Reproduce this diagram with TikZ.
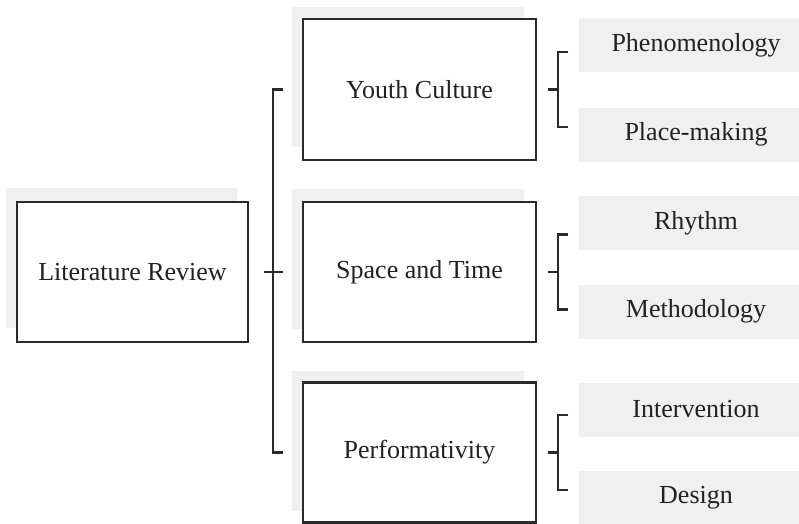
\documentclass[tikz,border=0pt]{standalone}
\usepackage{fontspec}
\setmainfont{Liberation Serif}
\usetikzlibrary{calc}
\definecolor{inkline}{HTML}{2A2A2A}
\definecolor{panel}{HTML}{F0F0EE}
\definecolor{inktext}{HTML}{222222}
\begin{document}
\begin{tikzpicture}[x=1pt,y=-1pt,
  every node/.style={font=\fontsize{26}{30}\selectfont, text=inktext},
  backpanel/.style={fill=panel, minimum width=231pt, minimum height=140pt, inner sep=0pt},
  topicbox/.style={draw=inkline, line width=2.6pt, fill=white, minimum width=231pt, minimum height=140pt, inner sep=0pt},
  leafbox/.style={fill=panel, minimum width=234pt, minimum height=54pt, inner sep=0pt},
  bracket/.style={draw=inkline, line width=2.3pt}]
\useasboundingbox (0,0) rectangle (799,523);
\clip (0,0) rectangle (799,523);

% root topic with its offset backing panel
\node[backpanel] (litbg) at (121.5,258) {};
\node[topicbox] (lit) at (132.5,272) {Literature Review};

% middle column of topics
\node[backpanel, minimum width=232pt] (ycbg) at (408,76.5) {};
\node[topicbox, minimum width=233pt, minimum height=141pt] (yc) at (419.5,89.5) {Youth Culture};
\node[backpanel, minimum width=232pt] (stbg) at (408,258.5) {};
\node[topicbox, minimum width=233pt] (st) at (419.5,272) {Space and Time};
\node[backpanel, minimum width=232pt] (pfbg) at (408,440.5) {};
\node[topicbox, minimum width=233pt] (pf) at (419.5,452.5) {Performativity};

% sub-topics
\node[leafbox] (ph) at (696,45) {Phenomenology};
\node[leafbox] (pm) at (696,134.5) {Place-making};
\node[leafbox] (rh) at (696,223) {Rhythm};
\node[leafbox] (me) at (696,311.5) {Methodology};
\node[leafbox] (iv) at (696,409.5) {Intervention};
\node[leafbox] (de) at (696,498) {Design};

% spine bracket joining the root to the three topics
\coordinate (spine) at (273,0);
\draw[bracket] ($(yc.west -| spine)+(10,0)$) -- (yc.west -| spine) -- (pf.west -| spine) -- ++(10,0);
\draw[bracket] ($(lit.east)+(15,0)$) -- ($(lit.east -| spine)+(10,0)$);

% brackets joining each topic to its pair of sub-topics
\foreach \t in {yc,st,pf}{
  \draw[bracket] ($(\t.east)+(11,0)$) -- ++(10,0);
  \draw[bracket] ($(\t.east)+(31,-37.5)$) -- ++(-10,0) -- ++(0,75) -- ++(10,0);
}
\end{tikzpicture}
\end{document}
